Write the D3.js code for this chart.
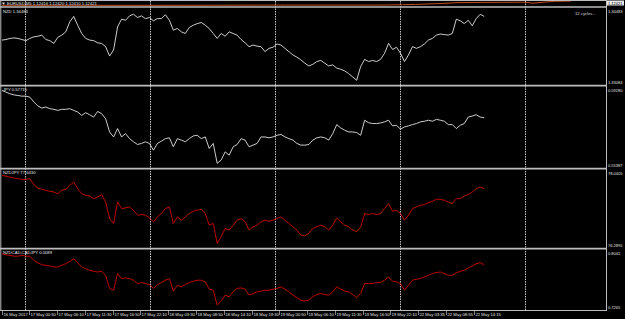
<!DOCTYPE html>
<html><head><meta charset="utf-8">
<script src="https://cdn.jsdelivr.net/npm/d3@7"></script>
<style>html,body{margin:0;padding:0;background:#000;overflow:hidden}</style>
</head><body>
<svg id="c" width="625" height="319"></svg>
<script>
// ---- data ----
const tickLabels = ["16 May 2017","17 May 00:50","17 May 06:10","17 May 11:30","17 May 16:50","17 May 22:10",
  "18 May 03:30","18 May 08:50","18 May 14:10","18 May 19:30","19 May 00:50","19 May 06:10",
  "19 May 11:30","19 May 16:50","19 May 22:10","22 May 03:35","22 May 08:55","22 May 14:15"];
const tickBars = [-53,10,74,138,202,266,330,394,458,522,586,650,714,778,842,906,970,1034];
const daySeparatorBars = [0,288,576,864,1152];
const firstBar = -53, lastBar = 1058;

const eurusdBars = [-53,300,600,820,870,900,960,1000,1100,1150,1170,1200,1220,1258];
const eurusd = [1.1097,1.1097,1.1107,1.1107,1.1118,1.1130,1.1163,1.1196,1.1206,1.1210,1.1173,1.1218,1.1239,1.1250];

const nzd = [1.3390,1.3391,1.3393,1.3394,1.3393,1.3391,1.3389,1.3393,1.3396,1.3397,1.3399,1.3391,1.3389,1.3384,1.3395,1.3399,
1.3405,1.3423,1.3433,1.3417,1.3402,1.3393,1.3390,1.3389,1.3385,1.3384,1.3378,1.3361,1.3372,1.3414,1.3428,1.3426,1.3434,1.3437,
1.3431,1.3434,1.3429,1.3431,1.3425,1.3429,1.3429,1.3436,1.3426,1.3408,1.3411,1.3405,1.3402,1.3413,1.3417,1.3420,1.3422,1.3417,
1.3411,1.3402,1.3393,1.3402,1.3397,1.3405,1.3402,1.3399,1.3391,1.3385,1.3378,1.3381,1.3379,1.3378,1.3369,1.3375,1.3377,1.3383,
1.3381,1.3375,1.3369,1.3363,1.3359,1.3354,1.3348,1.3343,1.3346,1.3351,1.3353,1.3348,1.3343,1.3345,1.3339,1.3337,1.3334,1.3329,
1.3323,1.3317,1.3342,1.3355,1.3351,1.3353,1.3351,1.3355,1.3366,1.3384,1.3373,1.3377,1.3366,1.3351,1.3363,1.3378,1.3375,1.3378,
1.3383,1.3390,1.3393,1.3399,1.3401,1.3400,1.3399,1.3402,1.3428,1.3425,1.3420,1.3426,1.3416,1.3429,1.3437,1.3433];

const jpy = [.5909,.5901,.5893,.5888,.5885,.5882,.5882,.5877,.5854,.5835,.5825,.5830,.5822,.5819,.5814,.5819,.5819,.5822,.5814,
.5806,.5790,.5803,.5793,.5782,.5809,.5798,.5774,.5711,.5687,.5727,.5687,.5703,.5679,.5664,.5651,.5656,.5664,.5656,.5624,.5656,
.5667,.5679,.5683,.5640,.5679,.5672,.5664,.5679,.5692,.5695,.5679,.5687,.5632,.5656,.5561,.5577,.5616,.5600,.5640,.5651,.5679,
.5672,.5640,.5648,.5656,.5687,.5687,.5683,.5687,.5695,.5699,.5687,.5679,.5672,.5656,.5648,.5648,.5651,.5672,.5683,.5687,.5683,
.5672,.5703,.5746,.5730,.5719,.5711,.5711,.5708,.5695,.5767,.5755,.5751,.5751,.5754,.5759,.5767,.5740,.5743,.5724,.5735,.5740,
.5746,.5751,.5759,.5762,.5767,.5762,.5771,.5767,.5762,.5746,.5746,.5727,.5743,.5751,.5782,.5787,.5793,.5782,.5779];

const nzdjpy = [77.908,77.893,77.871,77.848,77.834,77.819,77.819,77.834,77.701,77.627,77.597,77.575,77.553,77.538,77.501,77.575,
77.597,77.686,77.760,77.612,77.501,77.464,77.450,77.390,77.427,77.479,77.317,76.947,76.836,77.317,77.169,77.184,77.206,77.132,
77.021,77.036,77.021,76.962,76.873,76.984,77.058,77.169,77.206,76.836,76.984,76.910,76.984,77.058,77.110,77.132,77.154,77.058,
76.799,76.836,76.393,76.541,76.726,76.689,76.799,76.910,76.947,76.873,76.689,76.762,76.799,76.873,76.910,76.888,76.910,76.947,
76.984,76.910,76.836,76.762,76.689,76.578,76.563,76.615,76.726,76.762,76.799,76.762,76.689,76.799,76.962,76.873,76.799,76.762,
76.689,76.652,76.762,77.058,77.036,77.058,77.036,77.058,77.169,77.280,77.110,77.132,77.058,76.910,77.021,77.169,77.206,77.243,
77.257,77.302,77.331,77.376,77.376,77.353,77.317,77.280,77.390,77.390,77.450,77.479,77.538,77.612,77.649,77.612];

const nzdcadCadjpy = [.7986,.7973,.7965,.7956,.7956,.7965,.7956,.7956,.7901,.7871,.7846,.7838,.7829,.7816,.7816,.7838,.7859,.7888,
.7922,.7871,.7816,.7795,.7774,.7761,.7753,.7761,.7710,.7541,.7519,.7732,.7668,.7676,.7668,.7647,.7604,.7617,.7604,.7592,.7541,
.7592,.7617,.7647,.7668,.7507,.7583,.7562,.7592,.7617,.7634,.7647,.7647,.7626,.7532,.7519,.7329,.7380,.7456,.7435,.7498,.7541,
.7549,.7532,.7456,.7477,.7498,.7507,.7519,.7519,.7532,.7541,.7562,.7532,.7498,.7456,.7422,.7392,.7380,.7392,.7435,.7464,.7477,
.7464,.7456,.7498,.7562,.7532,.7507,.7498,.7464,.7422,.7477,.7604,.7604,.7604,.7617,.7617,.7647,.7689,.7634,.7626,.7604,.7519,
.7583,.7647,.7659,.7668,.7689,.7710,.7732,.7744,.7753,.7732,.7710,.7710,.7744,.7761,.7774,.7804,.7829,.7859,.7871,.7846];

const panelLabels = ["NZD 1.34483","JPY 0.57715","NZDJPY 77.6430","NZDCAD,CADJPY 0.0089"];
const panelRanges = [[1.33084,1.34483],[0.55387,0.59280],[76.2895,78.0405],[0.7265,0.8041]];
const panelFormats = [".5f",".5f",".4f",".4f"];
const headerText = "EURUSD,M5  1.12416 1.12420 1.12410 1.12421";
const eurusdRange = [1.1080,1.1245];
const priceTag = "1.12421";
const cyclesText = "12 cycles...";

// ---- drawing ----
const svg = d3.select("#c");
const FONT = "'Liberation Sans', Arial, sans-serif";
const gridCol = "#c4c4c4";
svg.append("rect").attr("width",625).attr("height",319).attr("fill","#000");

const xRight = 606, xLeft = 1.5;
const x = d3.scaleLinear().domain([0,1152]).range([25,525]);

const series = [nzd, jpy, nzdjpy, nzdcadCadjpy];
const colors = ["#f0f0f0","#f0f0f0","#e00000","#e00000"];
const panelBox = [[8,85],[86.5,168],[169.5,248],[249.5,310]];

// clips
const defs = svg.append("defs");
panelBox.forEach((b,k)=>{
  defs.append("clipPath").attr("id","cp"+k).append("rect")
    .attr("x",xLeft).attr("y",b[0]).attr("width",xRight-xLeft).attr("height",b[1]-b[0]);
});
defs.append("clipPath").attr("id","cpTop").append("rect").attr("x",xLeft).attr("y",1).attr("width",xRight-xLeft).attr("height",5.3);

// day separators (dotted)
svg.append("g").selectAll("line").data(daySeparatorBars).join("line")
  .attr("x1",d=>Math.round(x(d))+0.5).attr("x2",d=>Math.round(x(d))+0.5)
  .attr("y1",1).attr("y2",310)
  .attr("stroke",gridCol).attr("stroke-width",1).attr("stroke-dasharray","1.5,1");

// top strip (main chart)
const yTop = d3.scaleLinear().domain(eurusdRange).range([5.8,1.2]);
svg.append("path").datum(eurusd).attr("clip-path","url(#cpTop)")
  .attr("d", d3.line().x((d,i)=>x(eurusdBars[i])).y(d=>yTop(d)))
  .attr("fill","none").attr("stroke","#d9531e").attr("stroke-width",0.9);
svg.append("path").attr("d","M2,2.5 L5,2.5 L3.5,5 Z").attr("fill","#ddd");
svg.append("text").attr("x",7).attr("y",5.4).text(headerText)
  .attr("font-family",FONT).attr("font-size",4.2).attr("fill","#e0e0e0");
svg.append("rect").attr("x",607).attr("y",0.5).attr("width",17).attr("height",5).attr("fill","#e6e6e6");
svg.append("text").attr("x",608).attr("y",4.6).text(priceTag)
  .attr("font-family",FONT).attr("font-size",4).attr("fill","#000");

// panels
panelBox.forEach((b,k)=>{
  const y = d3.scaleLinear().domain(panelRanges[k]).range([b[1],b[0]]);
  const data = series[k];
  const n = data.length;
  const barOf = i => firstBar + i*(lastBar-firstBar)/(n-1);
  svg.append("path").datum(data).attr("clip-path",`url(#cp${k})`)
    .attr("d", d3.line().x((d,i)=>x(barOf(i))).y(d=>y(d)))
    .attr("fill","none").attr("stroke",colors[k]).attr("stroke-width",0.85);
  svg.append("text").attr("x",3).attr("y",b[0]+4.5).text(panelLabels[k])
    .attr("font-family",FONT).attr("font-size",4.2).attr("fill","#e6e6e6");
  const f = d3.format(panelFormats[k]);
  svg.append("text").attr("x",608).attr("y",y(panelRanges[k][1])+5).text(f(panelRanges[k][1]))
    .attr("font-family",FONT).attr("font-size",4).attr("fill","#e0e0e0");
  svg.append("text").attr("x",608).attr("y",y(panelRanges[k][0])-1.3).text(f(panelRanges[k][0]))
    .attr("font-family",FONT).attr("font-size",4).attr("fill","#e0e0e0");
});
svg.append("text").attr("x",575).attr("y",15.3).text(cyclesText)
  .attr("font-family",FONT).attr("font-size",4.2).attr("fill","#d8d8d8");

// frame & separators
const sepCol = "#bdbdbd";
[[0.5,1],[7,1.6],[85.6,1.6],[168.6,1.6],[248.6,1.6],[310.5,1]].forEach(s=>{
  svg.append("line").attr("x1",0).attr("x2",xRight+0.5).attr("y1",s[0]).attr("y2",s[0])
    .attr("stroke",sepCol).attr("stroke-width",s[1]);
});
svg.append("line").attr("x1",xRight+0.5).attr("x2",xRight+0.5).attr("y1",0).attr("y2",311)
  .attr("stroke",sepCol).attr("stroke-width",1);
svg.append("line").attr("x1",0.8).attr("x2",0.8).attr("y1",0).attr("y2",311)
  .attr("stroke",sepCol).attr("stroke-width",1);

// time axis
const tg = svg.append("g");
tg.selectAll("line").data(tickBars).join("line")
  .attr("x1",d=>Math.round(x(d))+0.5).attr("x2",d=>Math.round(x(d))+0.5)
  .attr("y1",311).attr("y2",315).attr("stroke","#bbb").attr("stroke-width",0.7);
tg.selectAll("text").data(tickLabels).join("text")
  .attr("x",(d,i)=>Math.round(x(tickBars[i]))+1.5).attr("y",315.8).text(d=>d)
  .attr("font-family",FONT).attr("font-size",4.2).attr("fill","#e0e0e0");
</script>
</body></html>
